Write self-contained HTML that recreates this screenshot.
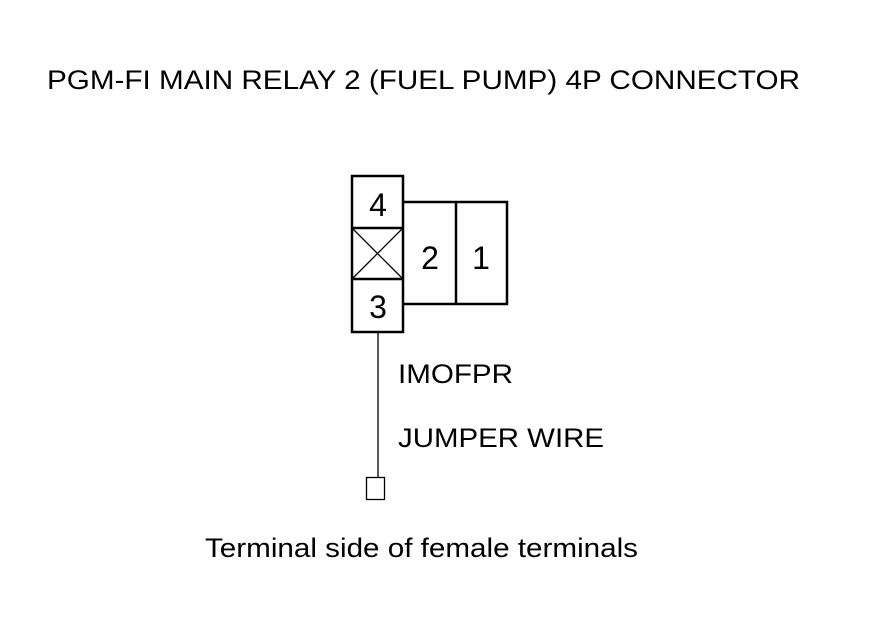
<!DOCTYPE html>
<html><head><style>
body{margin:0;background:#fff;width:880px;height:630px;overflow:hidden}
</style></head><body>
<svg width="880" height="630" xmlns="http://www.w3.org/2000/svg" font-family="Liberation Sans, sans-serif">
<text x="47" y="89" font-size="27" textLength="753" lengthAdjust="spacingAndGlyphs">PGM-FI MAIN RELAY 2 (FUEL PUMP) 4P CONNECTOR</text>
<g stroke="#000" fill="none" stroke-width="2.5">
<rect x="352" y="176" width="51" height="156"/>
<line x1="352" y1="228" x2="403" y2="228"/>
<line x1="352" y1="279" x2="403" y2="279"/>
<polyline points="403,202 507,202 507,304 403,304"/>
<line x1="456" y1="202" x2="456" y2="304"/>
</g>
<g stroke="#000" stroke-width="1.3">
<line x1="352" y1="228" x2="403" y2="279"/>
<line x1="403" y1="228" x2="352" y2="279"/>
<line x1="378" y1="333" x2="378" y2="477"/>
<rect x="366.5" y="477.5" width="18" height="22" fill="none"/>
</g>
<g font-size="32" text-anchor="middle">
<text x="378" y="216">4</text>
<text x="378" y="318">3</text>
<text x="430" y="269">2</text>
<text x="481" y="269">1</text>
</g>
<text x="398" y="383" font-size="27" textLength="115" lengthAdjust="spacingAndGlyphs">IMOFPR</text>
<text x="398" y="447" font-size="27" textLength="206" lengthAdjust="spacingAndGlyphs">JUMPER WIRE</text>
<text x="205" y="557" font-size="27" textLength="433" lengthAdjust="spacingAndGlyphs">Terminal side of female terminals</text>
</svg>
</body></html>
